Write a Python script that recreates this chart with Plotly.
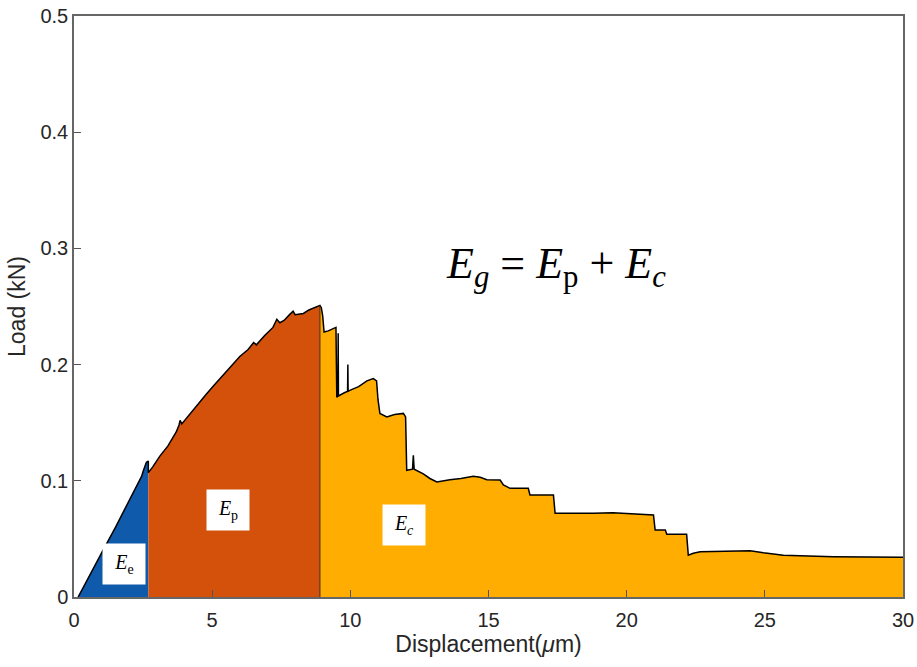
import plotly.graph_objects as go

# Elastic energy region (blue)
elastic_x = [0.15, 0.5, 1.0, 1.5, 2.0, 2.3, 2.45, 2.5, 2.55, 2.62, 2.69]
elastic_y = [0.0, 0.016, 0.038, 0.060, 0.083, 0.097, 0.104, 0.108, 0.112, 0.116, 0.117]

# Plastic energy region (orange)
plastic_x = [2.69, 2.85, 3.1, 3.4, 3.7, 3.8, 3.84, 3.9, 4.2, 4.5, 4.8, 5.1, 5.4, 5.7, 6.0,
             6.3, 6.5, 6.6, 6.9, 7.2, 7.34, 7.45, 7.6, 7.8, 7.93, 8.0, 8.3, 8.5, 8.7, 8.9]
plastic_y = [0.107, 0.112, 0.121, 0.130, 0.142, 0.148, 0.152, 0.149, 0.158, 0.167, 0.175, 0.183,
             0.191, 0.199, 0.207, 0.213, 0.219, 0.217, 0.225, 0.232, 0.239, 0.236, 0.238, 0.243,
             0.246, 0.243, 0.244, 0.247, 0.249, 0.251]

# Crack energy region (yellow)
crack_x = [8.9, 8.95, 9.0, 9.05, 9.2, 9.38, 9.48, 9.51, 9.55, 9.56, 9.57, 9.8, 9.9, 9.91, 9.92,
           10.0, 10.3, 10.6, 10.83, 10.95, 11.0, 11.07, 11.32, 11.6, 11.92, 12.0, 12.04, 12.25,
           12.28, 12.31, 12.5, 12.64, 12.88, 13.13, 13.6, 14.0, 14.45, 14.7, 14.94, 15.42, 15.54,
           15.78, 16.44, 16.5, 17.35, 17.41, 18.79, 19.5, 20.97, 21.03, 21.4, 21.45, 22.17, 22.23,
           22.41, 22.66, 24.47, 24.95, 25.67, 27.48, 30.0]
crack_y = [0.251, 0.249, 0.242, 0.228, 0.229, 0.231, 0.232, 0.172, 0.173, 0.227, 0.173, 0.176,
           0.177, 0.200, 0.177, 0.178, 0.181, 0.186, 0.188, 0.186, 0.170, 0.158, 0.155, 0.157,
           0.158, 0.155, 0.109, 0.110, 0.122, 0.110, 0.108, 0.106, 0.102, 0.099, 0.101, 0.102,
           0.104, 0.103, 0.101, 0.1007, 0.0964, 0.0935, 0.0935, 0.0878, 0.0878, 0.072, 0.072,
           0.0725, 0.0706, 0.0577, 0.0577, 0.054, 0.054, 0.036, 0.0376, 0.039, 0.0398, 0.038,
           0.036, 0.0347, 0.0342]

x_ticks = [0, 5, 10, 15, 20, 25, 30]
y_ticks = [0, 0.1, 0.2, 0.3, 0.4, 0.5]

blue = "#0F5AAA"
orange = "#D3510B"
yellow = "#FFAD00"

fig = go.Figure()

def region(xs, ys, color):
    px = [xs[0]] + xs + [xs[-1], xs[0]]
    py = [0] + ys + [0, 0]
    fig.add_trace(go.Scatter(x=px, y=py, fill="toself", fillcolor=color, mode="lines",
                             line=dict(width=0, color=color), hoverinfo="skip", showlegend=False))

region(elastic_x, elastic_y, blue)
region(plastic_x, plastic_y, orange)
region(crack_x, crack_y, yellow)

# black outline along the curve
all_x = elastic_x + plastic_x + crack_x
all_y = elastic_y + plastic_y + crack_y
fig.add_trace(go.Scatter(x=all_x, y=all_y, mode="lines",
                         line=dict(color="black", width=1.5), showlegend=False))
# divider between plastic and crack regions
fig.add_trace(go.Scatter(x=[plastic_x[-1], plastic_x[-1]], y=[0, plastic_y[-1]], mode="lines",
                         line=dict(color="#3a2a10", width=1), showlegend=False))

serif = "Liberation Serif, Times New Roman, serif"
labels = [
    (1.81, 0.0284, "<i>E</i><sub>e</sub>"),
    (5.57, 0.075, "<i>E</i><sub>p</sub>"),
    (11.94, 0.062, "<i>E</i><sub><i>c</i></sub>"),
]
for lx, ly, txt in labels:
    fig.add_annotation(x=lx, y=ly, text=txt, showarrow=False, bgcolor="white",
                       width=40, height=38, font=dict(family=serif, size=20, color="black"))

fig.add_annotation(x=17.45, y=0.284, xanchor="center", yanchor="middle", showarrow=False,
                   text="<i>E</i><sub><i>g</i></sub> = <i>E</i><sub>p</sub> + <i>E</i><sub><i>c</i></sub>",
                   font=dict(family=serif, size=44, color="black"))

tick_font = dict(family="Liberation Sans, Arial, sans-serif", size=20, color="#262626")
title_font = dict(family="Liberation Sans, Arial, sans-serif", size=23, color="#262626")
fig.update_layout(
    width=917, height=667,
    margin=dict(l=74, r=14, t=16, b=70),
    paper_bgcolor="white", plot_bgcolor="white",
    xaxis=dict(range=[0, 30], tickvals=x_ticks, ticktext=[str(v) for v in x_ticks],
               ticks="inside", ticklen=7, tickcolor="#555", showline=True, linecolor="#666",
               linewidth=1.5, mirror=True, showgrid=False, zeroline=False, tickfont=tick_font,
               ticklabelstandoff=4, automargin=False,
               title=dict(text="Displacement(<i>μ</i>m)", font=title_font, standoff=4)),
    yaxis=dict(range=[0, 0.5], tickvals=y_ticks, ticktext=["0", "0.1", "0.2", "0.3", "0.4", "0.5"],
               ticks="inside", ticklen=7, tickcolor="#555", showline=True, linecolor="#666",
               linewidth=1.5, mirror=True, showgrid=False, zeroline=False, tickfont=tick_font,
               automargin=False,
               title=dict(text="Load (kN)", font=title_font, standoff=8)),
)

fig.write_html("out.html")
